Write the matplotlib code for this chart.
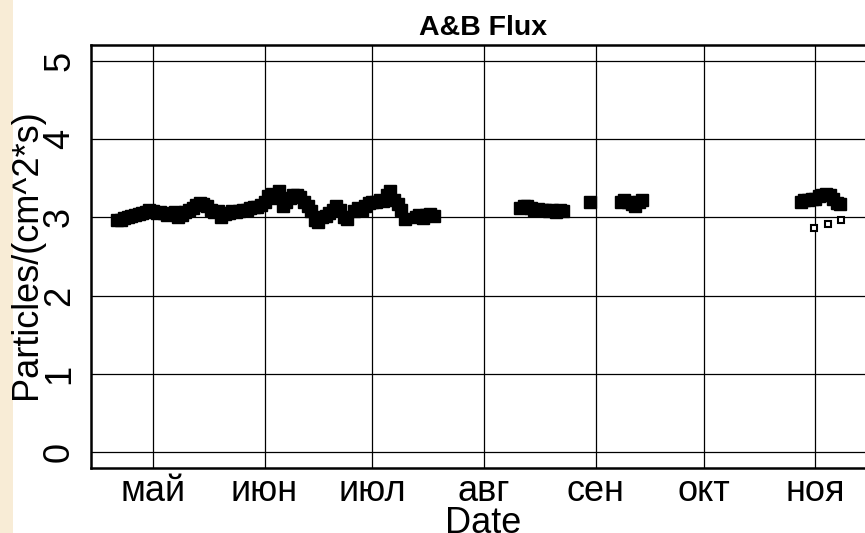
import matplotlib
matplotlib.use("Agg")
import matplotlib.pyplot as plt
import datetime as dt

plt.rcParams['font.family'] = ['Liberation Sans', 'DejaVu Sans']

# ---- data (days counted from 1 May) ----
base = dt.datetime(2014, 5, 1)
month_labels = ['май', 'июн', 'июл', 'авг', 'сен', 'окт', 'ноя']
month_starts = ['2014-05-01', '2014-06-01', '2014-07-01', '2014-08-01',
                '2014-09-01', '2014-10-01', '2014-11-01']

days_a = list(range(-10, 55)) + list(range(56, 71)) + list(range(73, 79))
flux_a = [2.97, 2.96, 2.99, 3.00, 3.02, 3.03, 3.04, 3.05, 3.07, 3.09,
          3.08, 3.06, 3.07, 3.05, 3.03, 3.04, 3.07, 3.00, 3.03, 3.07,
          3.10, 3.12, 3.16, 3.18, 3.17, 3.15, 3.10, 3.07, 3.08, 3.00,
          3.04, 3.06, 3.08, 3.07, 3.08, 3.09, 3.10, 3.12, 3.13, 3.13,
          3.16, 3.20, 3.27, 3.30, 3.25, 3.33, 3.15, 3.20, 3.25, 3.29,
          3.28, 3.26, 3.20, 3.15, 3.08, 2.97, 2.94, 3.00, 3.02, 3.06,
          3.10, 3.15, 3.10, 3.00, 2.98,
          3.08, 3.12, 3.10, 3.14, 3.18, 3.20, 3.19, 3.22, 3.21, 3.28,
          3.33, 3.22, 3.17, 3.10, 2.98,
          3.00, 3.03, 2.99, 3.03, 3.04, 3.02]

days_b = list(range(102, 115)) + [121.5] + list(range(130, 137)) + list(range(180, 192))
flux_b = [3.12, 3.15, 3.14, 3.12, 3.10, 3.11, 3.09, 3.10, 3.08, 3.10, 3.07, 3.09, 3.08,
          3.19,
          3.19, 3.22, 3.20, 3.17, 3.15, 3.20, 3.22,
          3.20, 3.22, 3.22, 3.24, 3.24, 3.27, 3.29, 3.30, 3.28, 3.24, 3.18, 3.17]

days_open = [183.6, 187.5, 191.1]
flux_open = [2.86, 2.91, 2.96]

y_ticks = [0, 1, 2, 3, 4, 5]


def to_dates(ds):
    return [base + dt.timedelta(days=d) for d in ds]


W, H = 865, 533
fig = plt.figure(figsize=(W / 100, H / 100), dpi=100)
fig.patch.set_facecolor('white')
# beige strip on the left
fig.patches.append(plt.Rectangle((0, 0), 13 / W, 1, transform=fig.transFigure,
                                 facecolor='#F8ECD6', edgecolor='none', zorder=0))

ax = fig.add_axes([91 / W, (H - 468) / H, (875 - 91) / W, 423 / H])
ax.set_facecolor('white')

ax.plot(to_dates(days_a), flux_a, linestyle='none', marker='s', markersize=8,
        color='black', zorder=3)
ax.plot(to_dates(days_b), flux_b, linestyle='none', marker='s', markersize=8,
        color='black', zorder=3)
ax.plot(to_dates(days_open), flux_open, linestyle='none', marker='s', markersize=4.5,
        markerfacecolor='white', markeredgecolor='black', markeredgewidth=1.5, zorder=3)

x0 = base + dt.timedelta(days=-17.2)
x1 = base + dt.timedelta(days=200.6)
ax.set_xlim(x0, x1)
ax.set_ylim(-0.2, 5.2)

ticks = [dt.datetime.strptime(s, '%Y-%m-%d') for s in month_starts]
ax.set_xticks(ticks)
ax.set_xticklabels(month_labels)
ax.set_yticks(y_ticks)
ax.set_yticklabels([str(v) for v in y_ticks], rotation=90, va='center')

ax.grid(True, color='black', linewidth=0.9)
ax.set_axisbelow(True)
for s in ax.spines.values():
    s.set_linewidth(1.8)
    s.set_color('black')

ax.tick_params(axis='both', length=0, labelsize=26)
ax.tick_params(axis='x', pad=4)
ax.tick_params(axis='y', pad=10)

ax.set_xlabel('Date', fontsize=26, labelpad=-2)
ax.set_title('A&B Flux', fontsize=20.5, fontweight='bold', pad=7)
fig.text(27 / W, (H - 254) / H, 'Particles/(cm^2*s)', fontsize=26, rotation=90,
         ha='center', va='center')

fig.savefig('out.png', dpi=100)
